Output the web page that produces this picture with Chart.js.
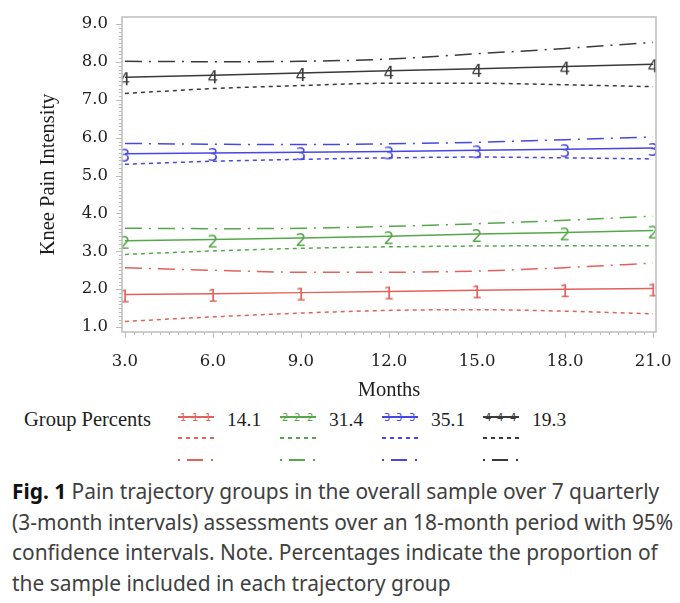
<!DOCTYPE html>
<html>
<head>
<meta charset="utf-8">
<script src="https://cdn.jsdelivr.net/npm/chart.js@4.4.1/dist/chart.umd.min.js"></script>
<style>
  body { margin:0; background:#fff; }
  #page { position:relative; width:680px; height:603px; overflow:hidden; background:#fff; }
  #chart-wrap { position:absolute; left:0; top:0; width:680px; height:405px; }
  .lg { position:absolute; font-family:"Liberation Serif", serif; color:#1e1e1e; white-space:nowrap; line-height:1; }
  .sample { position:absolute; width:36px; height:2px; }
  .sample span { position:absolute; top:-3px; font:10px "DejaVu Sans", sans-serif; line-height:1; }
  #caption { position:absolute; left:12px; top:476px; font-family:"Noto Sans", sans-serif; font-size:20.9px; line-height:30.5px; color:#404040; white-space:nowrap; }
  #caption b { color:#111; }
</style>
</head>
<body>
<div id="page">
  <div id="chart-wrap"><canvas id="traj-chart"></canvas></div>
  <div id="legend"></div>
  <div id="caption"><b>Fig. 1</b> Pain trajectory groups in the overall sample over 7 quarterly<br>(3-month intervals) assessments over an 18-month period with 95%<br>confidence intervals. Note. Percentages indicate the proportion of<br>the sample included in each trajectory group</div>
</div>
<script>
// Data
const months = [3, 6, 9, 12, 15, 18, 21];
const xTicks = [3, 6, 9, 12, 15, 18, 21];
const yTicks = [1, 2, 3, 4, 5, 6, 7, 8, 9];

const groupLabels   = ['1', '2', '3', '4'];
const groupPercents = ['14.1', '31.4', '35.1', '19.3'];
const groupColors   = ['#e4605a', '#55a84a', '#4747e6', '#3a3a3a'];

const est1 = [1.86, 1.88, 1.91, 1.94, 1.97, 2.00, 2.02];
const low1 = [1.15, 1.27, 1.37, 1.44, 1.46, 1.42, 1.35];
const upp1 = [2.57, 2.50, 2.45, 2.45, 2.48, 2.57, 2.69];

const est2 = [3.28, 3.31, 3.35, 3.40, 3.46, 3.50, 3.55];
const low2 = [2.92, 3.01, 3.08, 3.12, 3.14, 3.15, 3.15];
const upp2 = [3.61, 3.60, 3.61, 3.66, 3.73, 3.82, 3.93];

const est3 = [5.58, 5.60, 5.62, 5.64, 5.67, 5.70, 5.73];
const low3 = [5.30, 5.38, 5.43, 5.47, 5.49, 5.47, 5.44];
const upp3 = [5.85, 5.83, 5.82, 5.84, 5.88, 5.95, 6.02];

const est4 = [7.60, 7.65, 7.71, 7.77, 7.82, 7.88, 7.94];
const low4 = [7.17, 7.30, 7.38, 7.44, 7.44, 7.40, 7.35];
const upp4 = [8.02, 8.01, 8.02, 8.08, 8.22, 8.36, 8.52];

const estimates = [est1, est2, est3, est4];
const lowers    = [low1, low2, low3, low4];
const uppers    = [upp1, upp2, upp3, upp4];

const DASH     = [4, 4];
const DASH_DOT = [17, 7, 2, 7];

function toPoints(vals) {
  return months.map((m, i) => ({ x: m, y: vals[i] }));
}

// digit markers like the SAS plot symbols (sit a little below the line)
function digitMarker(ch, color) {
  const c = document.createElement('canvas');
  const r = window.devicePixelRatio || 1;
  c.width = 14 * r; c.height = 26 * r;
  c.style.width = '14px'; c.style.height = '26px';
  const g = c.getContext('2d');
  g.scale(r, r);
  g.fillStyle = color;
  g.font = '17px "DejaVu Sans", sans-serif';
  g.textAlign = 'center';
  g.textBaseline = 'middle';
  g.fillText(ch, 7, 17);
  return c;
}

const datasets = [];
groupLabels.forEach((g, i) => {
  const col = groupColors[i];
  datasets.push({
    label: 'Group ' + g,
    data: toPoints(estimates[i]),
    borderColor: col, backgroundColor: col,
    borderWidth: 1.5, tension: 0,
    pointStyle: digitMarker(g, col), pointRadius: 7,
  });
  datasets.push({
    label: 'Group ' + g + ' lower 95% CI',
    data: toPoints(lowers[i]),
    borderColor: col, borderWidth: 1.5, borderDash: DASH,
    cubicInterpolationMode: 'monotone', pointRadius: 0,
  });
  datasets.push({
    label: 'Group ' + g + ' upper 95% CI',
    data: toPoints(uppers[i]),
    borderColor: col, borderWidth: 1.5, borderDash: DASH_DOT,
    cubicInterpolationMode: 'monotone', pointRadius: 0,
  });
});

// frame + minor ticks
const framePlugin = {
  id: 'frame',
  afterDraw(chart) {
    const { ctx, chartArea: a, scales: { x, y } } = chart;
    ctx.save();
    ctx.strokeStyle = '#bdbdbd';
    ctx.lineWidth = 1.5;
    ctx.strokeRect(a.left, a.top, a.right - a.left, a.bottom - a.top);
    ctx.lineWidth = 1;
    ctx.beginPath();
    for (let v = 1; v <= 9.001; v += 0.1) {
      const py = Math.round(y.getPixelForValue(v)) + 0.5;
      const len = Math.abs(v - Math.round(v)) < 1e-6 ? 6 : 3;
      ctx.moveTo(a.left - len, py); ctx.lineTo(a.left, py);
    }
    for (let v = 3; v <= 21.001; v += 0.3) {
      const px = Math.round(x.getPixelForValue(v)) + 0.5;
      const len = Math.abs(v / 3 - Math.round(v / 3)) < 1e-6 ? 6 : 3;
      ctx.moveTo(px, a.bottom); ctx.lineTo(px, a.bottom + len);
    }
    ctx.stroke();
    ctx.restore();
  }
};

const tickFont = { family: 'DejaVu Serif', size: 16.5 };

new Chart(document.getElementById('traj-chart'), {
  type: 'line',
  data: { datasets },
  plugins: [framePlugin],
  options: {
    responsive: true,
    maintainAspectRatio: false,
    animation: false,
    layout: { autoPadding: false, padding: { top: 17, right: 24, left: 0, bottom: 0 } },
    plugins: { legend: { display: false }, tooltip: { enabled: false } },
    scales: {
      x: {
        type: 'linear', min: 2.9, max: 21.1,
        afterBuildTicks: s => { s.ticks = xTicks.map(v => ({ value: v })); },
        afterFit: s => { s.height = 73; s.paddingLeft = 0; s.paddingRight = 0; },
        grid: { display: false, drawTicks: false },
        border: { display: false },
        ticks: { padding: 20, color: '#1e1e1e', font: tickFont, callback: v => v.toFixed(1), maxRotation: 0 },
        title: { display: true, text: 'Months', color: '#1e1e1e', font: { family: 'Liberation Serif', size: 20.5 }, padding: { top: 0, bottom: 2 } },
      },
      y: {
        type: 'linear', min: 0.87, max: 9.19,
        afterBuildTicks: s => { s.ticks = yTicks.map(v => ({ value: v })); },
        afterFit: s => { s.width = 122; s.paddingTop = 0; s.paddingBottom = 0; },
        grid: { display: false, drawTicks: false },
        border: { display: false },
        ticks: { padding: 14, color: '#1e1e1e', font: tickFont, callback: v => v.toFixed(1) },
        title: { display: true, text: 'Knee Pain Intensity', color: '#1e1e1e', font: { family: 'Liberation Serif', size: 20.5 }, padding: { top: 36, bottom: 0 } },
      },
    },
  },
});

// legend (three rows: estimate, lower CI, upper CI)
const legendX = [178, 280, 382, 483];
const legendEl = document.getElementById('legend');
let html = '<div class="lg" style="left:24px;top:409px;font-size:20.5px;">Group Percents</div>';
groupLabels.forEach((g, i) => {
  const col = groupColors[i];
  const lx = legendX[i];
  html += `<div class="sample" style="left:${lx}px;top:416px;background:${col};">
      <span style="left:2px;color:${col}">${g}</span><span style="left:14px;color:${col}">${g}</span><span style="left:27px;color:${col}">${g}</span></div>`;
  html += `<div class="sample" style="left:${lx}px;top:437px;background:repeating-linear-gradient(to right, ${col} 0 4px, transparent 4px 8px);"></div>`;
  html += `<div class="sample" style="left:${lx}px;top:459px;background:linear-gradient(to right, ${col} 0 2px, transparent 2px 9px, ${col} 9px 25px, transparent 25px 33px, ${col} 33px 35px, transparent 35px);"></div>`;
  html += `<div class="lg" style="left:${lx + 49}px;top:410px;font-size:19.5px;">${groupPercents[i]}</div>`;
});
legendEl.innerHTML = html;
</script>
</body>
</html>
